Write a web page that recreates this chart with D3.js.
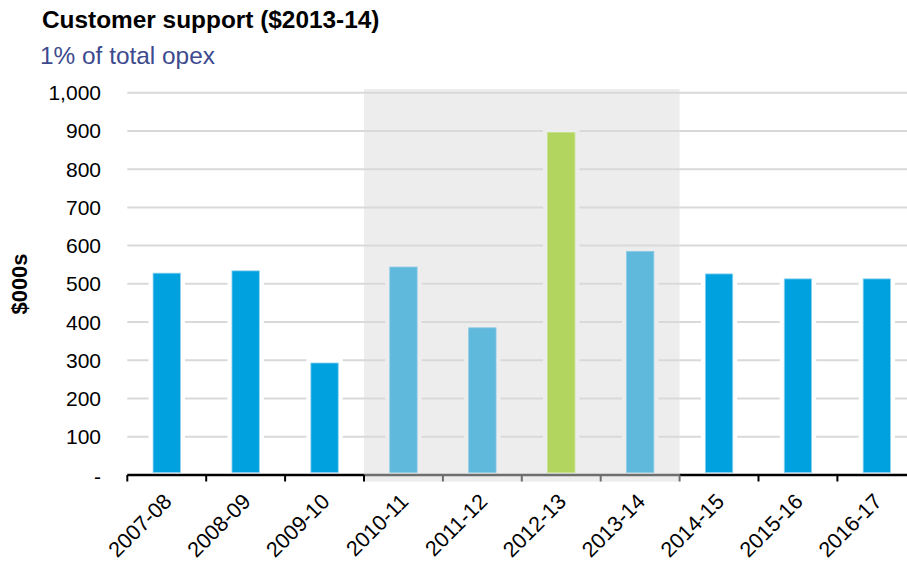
<!DOCTYPE html>
<html>
<head>
<meta charset="utf-8">
<script src="https://cdn.jsdelivr.net/npm/d3@7"></script>
<style>
  html, body { margin: 0; padding: 0; background: #fff; }
  svg { display: block; font-family: "Liberation Sans", Arial, sans-serif; }
</style>
</head>
<body>
<svg id="chart" width="907" height="562"></svg>
<script>
const categories = ["2007-08","2008-09","2009-10","2010-11","2011-12","2012-13","2013-14","2014-15","2015-16","2016-17"];
const values = [528, 534, 293, 544, 385, 896, 585, 526, 513, 513];
// bar type: actual, actual (shaded period), base year
const barTypes = ["actual","actual","actual","period","period","base","period","forecast","forecast","forecast"];
const yTicks = [0,100,200,300,400,500,600,700,800,900,1000];
const shadedRange = ["2010-11","2013-14"];
const title = "Customer support ($2013-14)";
const subtitle = "1% of total opex";
const yTitle = "$000s";

const colors = { actual: "#00a1df", forecast: "#00a1df", period: "#5fb9dc", base: "#b1d55f" };
const strokes = { actual: "#8fd3f0", forecast: "#8fd3f0", period: "#8ccbe6", base: "#c8e38c" };

const svg = d3.select("#chart");
const plotLeft = 127.3, plotRight = 916.3, plotTop = 92.7, plotBottom = 475;

const x = d3.scaleBand().domain(categories).range([plotLeft, plotRight]).padding(0);
const y = d3.scaleLinear().domain([0, 1000]).range([plotBottom, plotTop]);
const bw = x.bandwidth() * 0.347;

// shaded period
const sx0 = x(shadedRange[0]), sx1 = x(shadedRange[1]) + x.bandwidth();
svg.append("rect").attr("x", sx0).attr("y", 89).attr("width", sx1 - sx0).attr("height", 481.7 - 89).attr("fill", "#ededed");

// gridlines
svg.append("g").selectAll("line").data(yTicks.filter(d => d > 0)).join("line")
  .attr("x1", plotLeft).attr("x2", 907).attr("y1", d => y(d)).attr("y2", d => y(d))
  .attr("stroke", "#d9d9d9").attr("stroke-width", 2);

const inShade = c => x(c) >= sx0 - 0.1 && x(c) < sx1 - 0.1;

// halos behind bars
svg.append("g").selectAll("rect").data(categories).join("rect")
  .attr("x", c => x(c) + (x.bandwidth() - bw) / 2 - 4.5)
  .attr("width", bw + 9)
  .attr("y", (c, i) => y(values[i]) - 4.5)
  .attr("height", (c, i) => plotBottom - y(values[i]) + 4.5)
  .attr("fill", c => inShade(c) ? "#ededed" : "#ffffff");

// bars
svg.append("g").selectAll("rect").data(categories).join("rect")
  .attr("x", c => x(c) + (x.bandwidth() - bw) / 2)
  .attr("width", bw)
  .attr("y", (c, i) => y(values[i]))
  .attr("height", (c, i) => plotBottom - 2.5 - y(values[i]))
  .attr("fill", (c, i) => colors[barTypes[i]])
  .attr("stroke", (c, i) => strokes[barTypes[i]])
  .attr("stroke-width", 0.8);

// x axis line, segmented by colour
const axisSegs = [[plotLeft, sx0, "#000"], [sx0, sx1, "#6e6e6e"], [sx1, 907, "#000"]];
svg.append("g").selectAll("line").data(axisSegs).join("line")
  .attr("x1", d => d[0]).attr("x2", d => d[1]).attr("y1", plotBottom).attr("y2", plotBottom)
  .attr("stroke", d => d[2]).attr("stroke-width", 2.5);

// ticks at band boundaries
svg.append("g").selectAll("line").data(categories).join("line")
  .attr("x1", c => x(c)).attr("x2", c => x(c)).attr("y1", plotBottom).attr("y2", 481.5)
  .attr("stroke", c => (x(c) > sx0 + 0.5 && x(c) < sx1 + 0.5) ? "#6e6e6e" : "#000")
  .attr("stroke-width", 2);

// y tick labels
svg.append("g").selectAll("text").data(yTicks).join("text")
  .attr("x", 101).attr("y", d => y(d) + (d === 0 ? 1 : 0))
  .attr("text-anchor", "end").attr("dominant-baseline", "central")
  .attr("font-size", 21).attr("fill", "#000")
  .text(d => d === 0 ? "-" : d3.format(",")(d));

// x labels
svg.append("g").selectAll("text").data(categories).join("text")
  .attr("transform", c => `translate(${x(c) + x.bandwidth() / 2 + 1},497.5) rotate(-45)`)
  .attr("text-anchor", "end").attr("dy", "0.35em")
  .attr("font-size", 21.5).attr("fill", "#000")
  .text(c => c);

// y title
svg.append("text").attr("transform", "translate(19,284) rotate(-90)")
  .attr("text-anchor", "middle").attr("dominant-baseline", "central")
  .attr("font-size", 22).attr("font-weight", "bold").text(yTitle);

// titles
svg.append("text").attr("x", 42).attr("y", 27.5).attr("font-size", 24.4).attr("font-weight", "bold").attr("fill", "#000").text(title);
svg.append("text").attr("x", 40).attr("y", 63.5).attr("font-size", 24.4).attr("fill", "#3d4a8e").text(subtitle);
</script>
</body>
</html>
